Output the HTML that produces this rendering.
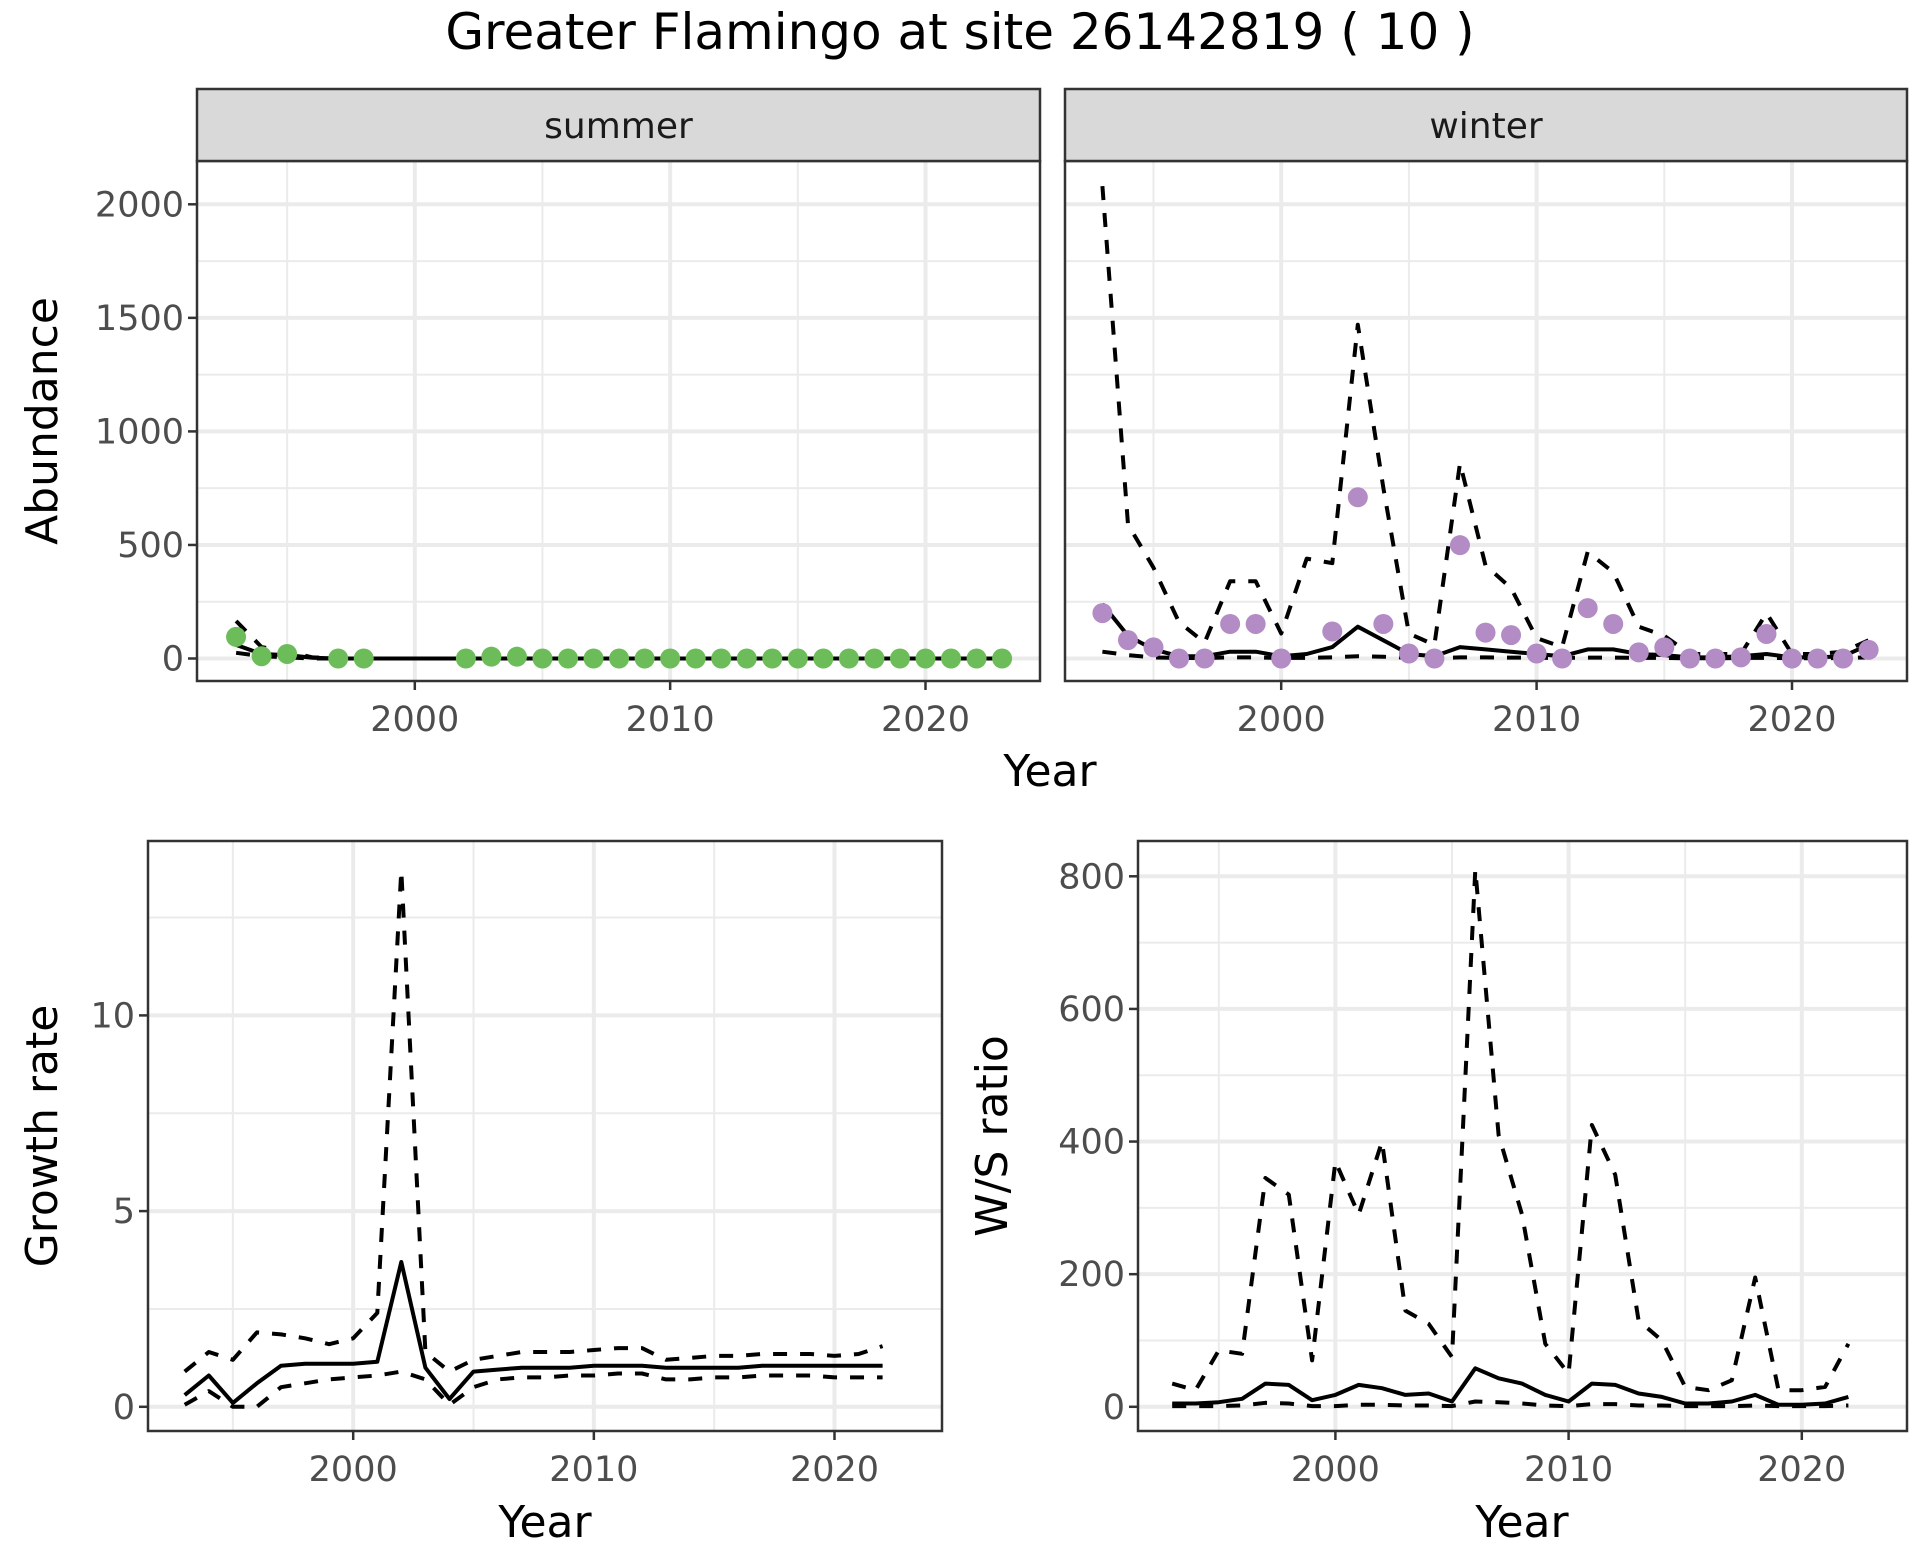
<!DOCTYPE html>
<html><head><meta charset="utf-8"><style>
html,body{margin:0;padding:0;background:#fff}
svg{display:block;font-family:"DejaVu Sans","Liberation Sans",sans-serif}
</style></head><body>
<svg id="chart" width="1920" height="1560" viewBox="0 0 1920 1560" xmlns="http://www.w3.org/2000/svg">
<rect width="1920" height="1560" fill="#fff"/>
<text x="960" y="49" text-anchor="middle" font-size="50" fill="#000">Greater Flamingo at site 26142819 ( 10 )</text>
<g id="layer"></g>
</svg>
<script>
const years = [];
for (let y = 1993; y <= 2023; y++) years.push(y);
const ratioYears = years.slice(0, 30);
const summerPtYears = [1993,1994,1995,1997,1998,2002,2003,2004,2005,2006,2007,2008,2009,2010,2011,2012,2013,2014,2015,2016,2017,2018,2019,2020,2021,2022,2023];
const summerPts = [95,10,20,0,0,0,8,8,0,0,0,0,0,0,0,0,0,0,0,0,0,0,0,0,0,0,0];
const summerMid = [60,20,15,3,0,0,0,0,0,0,0,0,0,0,0,0,0,0,0,0,0,0,0,0,0,0,0,0,0,0,0];
const summerUp = [165,50,30,5,0,0,0,0,0,0,0,0,0,0,0,0,0,0,0,0,0,0,0,0,0,0,0,0,0,0,0];
const summerLo = [25,10,5,0,0,0,0,0,0,0,0,0,0,0,0,0,0,0,0,0,0,0,0,0,0,0,0,0,0,0,0];
const winterPtYears = [1993,1994,1995,1996,1997,1998,1999,2000,2002,2003,2004,2005,2006,2007,2008,2009,2010,2011,2012,2013,2014,2015,2016,2017,2018,2019,2020,2021,2022,2023];
const winterPts = [200,81,49,0,0,152,152,0,119,710,152,22,0,499,114,103,22,0,222,152,27,49,0,0,5,108,0,0,0,38];
const winterUp = [2080,590,400,160,70,340,340,110,440,420,1470,750,110,60,860,410,310,90,50,470,380,140,100,20,20,20,200,20,20,30,80];
const winterMid = [240,100,40,10,10,30,30,10,20,50,140,80,20,10,50,40,30,20,10,40,40,20,15,5,5,10,20,5,5,10,60];
const winterLo = [30,15,5,2,2,5,5,2,3,5,10,8,3,2,5,5,4,3,2,4,4,3,2,1,1,2,3,1,1,2,5];
const growthMid = [0.3,0.8,0.1,0.6,1.05,1.1,1.1,1.1,1.15,3.7,1.0,0.2,0.9,0.95,1.0,1.0,1.0,1.05,1.05,1.05,1.0,1.0,1.0,1.0,1.05,1.05,1.05,1.05,1.05,1.05];
const growthUp = [0.9,1.4,1.2,1.9,1.85,1.75,1.6,1.75,2.4,13.7,1.4,0.9,1.2,1.3,1.4,1.4,1.4,1.45,1.5,1.5,1.2,1.25,1.3,1.3,1.35,1.35,1.35,1.3,1.35,1.55];
const growthLo = [0.05,0.4,0.0,0.0,0.5,0.6,0.7,0.75,0.8,0.9,0.7,0.05,0.5,0.7,0.75,0.75,0.8,0.8,0.85,0.85,0.7,0.7,0.75,0.75,0.8,0.8,0.8,0.75,0.75,0.75];
const ratioUp = [35,25,85,80,345,320,70,370,290,400,145,125,75,810,410,290,95,50,425,350,130,100,30,25,40,195,25,25,30,95];
const ratioMid = [5,5,7,12,35,33,10,18,33,28,18,20,8,58,43,35,18,8,35,33,20,15,5,5,8,18,3,3,5,15];
const ratioLo = [1,1,1,2,6,5,1,1,3,3,2,2,1,8,7,5,2,1,4,4,2,2,1,1,1,2,1,1,1,2];
const xTicks = [2000,2010,2020];
const abTicks = [0,500,1000,1500,2000];
const grTicks = [0,5,10];
const raTicks = [0,200,400,600,800];

const NS = "http://www.w3.org/2000/svg";
const layer = document.getElementById('layer');
function mk(tag, attrs, parent) {
  const e = document.createElementNS(NS, tag);
  for (const k in attrs) e.setAttribute(k, attrs[k]);
  (parent || layer).appendChild(e);
  return e;
}
function lin(d0, d1, r0, r1) { return v => r0 + (v - d0) / (d1 - d0) * (r1 - r0); }

function panel(o) {
  const g = mk('g', {});
  
  
  mk('rect', {x:o.x0, y:o.y0, width:o.x1-o.x0, height:o.y1-o.y0, fill:'#fff'}, g);
  o.minorY.forEach(v => mk('line', {x1:o.x0, x2:o.x1, y1:o.sy(v), y2:o.sy(v), stroke:'#ebebeb', 'stroke-width':2}, g));
  o.minorX.forEach(v => mk('line', {y1:o.y0, y2:o.y1, x1:o.sx(v), x2:o.sx(v), stroke:'#ebebeb', 'stroke-width':2}, g));
  o.yTicks.forEach(v => mk('line', {x1:o.x0, x2:o.x1, y1:o.sy(v), y2:o.sy(v), stroke:'#ebebeb', 'stroke-width':4}, g));
  xTicks.forEach(v => mk('line', {y1:o.y0, y2:o.y1, x1:o.sx(v), x2:o.sx(v), stroke:'#ebebeb', 'stroke-width':4}, g));
  const clipId = 'c' + o.name;
  const cp = mk('clipPath', {id:clipId}, g);
  mk('rect', {x:o.x0, y:o.y0, width:o.x1-o.x0, height:o.y1-o.y0}, cp);
  const dg = mk('g', {'clip-path':'url(#'+clipId+')'}, g);
  o.series.forEach(s => {
    const d = s.vals.map((v,i) => (i?'L':'M') + o.sx(s.yrs[i]).toFixed(1) + ',' + o.sy(v).toFixed(1)).join(' ');
    const p = mk('path', {d:d, fill:'none', stroke:'#000', 'stroke-width':4, 'stroke-linejoin':'round', 'stroke-dasharray': s.dash ? '14,13' : 'none'}, dg);
    
    
  });
  if (o.pts) o.pts.vals.forEach((v,i) => {
    const c = mk('circle', {cx:o.sx(o.pts.yrs[i]), cy:o.sy(v), r:10, fill:o.pts.color}, dg);
    
    
  });
  mk('rect', {x:o.x0, y:o.y0, width:o.x1-o.x0, height:o.y1-o.y0, fill:'none', stroke:'#333', 'stroke-width':2.5}, g);
  xTicks.forEach(v => {
    mk('line', {x1:o.sx(v), x2:o.sx(v), y1:o.y1, y2:o.y1+9, stroke:'#333', 'stroke-width':2.5}, g);
    const t = mk('text', {x:o.sx(v), y:o.y1+50, 'text-anchor':'middle', 'font-size':35, fill:'#4d4d4d'}, g);
    t.textContent = v;
    
    
  });
  if (o.showY) o.yTicks.forEach((v,i) => {
    mk('line', {x1:o.x0-9, x2:o.x0, y1:o.sy(v), y2:o.sy(v), stroke:'#333', 'stroke-width':2.5}, g);
    const t = mk('text', {x:o.x0-13, y:o.sy(v)+12, 'text-anchor':'end', 'font-size':35, fill:'#4d4d4d'}, g);
    t.textContent = o.yLabels[i];
    
    
  });
  if (o.strip) {
    mk('rect', {x:o.x0, y:89, width:o.x1-o.x0, height:o.y0-89, fill:'#d9d9d9', stroke:'#333', 'stroke-width':2.5}, g);
    const t = mk('text', {x:(o.x0+o.x1)/2, y:138, 'text-anchor':'middle', 'font-size':36, fill:'#1a1a1a'}, g);
    t.textContent = o.strip;
    
    
  }
}

const abY = lin(0, 2000, 658.5, 204.3);
panel({name:'summer-panel', x0:197, x1:1040, y0:161, y1:681, sx:lin(2000,2020,414.8,925.5), sy:abY,
  yTicks:abTicks, yLabels:abTicks, showY:true, strip:'summer',
  minorX:[1995,2005,2015], minorY:[250,750,1250,1750],
  series:[{yrs:years, vals:summerUp, dash:true, name:'summer-upper-ci'},{yrs:years, vals:summerMid, dash:false, name:'summer-trend'},{yrs:years, vals:summerLo, dash:true, name:'summer-lower-ci'}],
  pts:{yrs:summerPtYears, vals:summerPts, color:'#6cbd59'}});
panel({name:'winter-panel', x0:1065, x1:1907, y0:161, y1:681, sx:lin(2000,2020,1281.2,1792), sy:abY,
  yTicks:abTicks, yLabels:abTicks, showY:false, strip:'winter',
  minorX:[1995,2005,2015], minorY:[250,750,1250,1750],
  series:[{yrs:years, vals:winterUp, dash:true, name:'winter-upper-ci'},{yrs:years, vals:winterMid, dash:false, name:'winter-trend'},{yrs:years, vals:winterLo, dash:true, name:'winter-lower-ci'}],
  pts:{yrs:winterPtYears, vals:winterPts, color:'#b38bc5'}});
panel({name:'growth-panel', x0:148, x1:942, y0:841, y1:1431, sx:lin(2000,2020,353.2,834.5), sy:lin(0,10,1406.8,1015.4),
  yTicks:grTicks, yLabels:grTicks, showY:true,
  minorX:[1995,2005,2015], minorY:[2.5,7.5,12.5],
  series:[{yrs:ratioYears, vals:growthUp, dash:true, name:'growth-upper-ci'},{yrs:ratioYears, vals:growthMid, dash:false, name:'growth-trend'},{yrs:ratioYears, vals:growthLo, dash:true, name:'growth-lower-ci'}]});
panel({name:'ratio-panel', x0:1138, x1:1907, y0:841, y1:1431, sx:lin(2000,2020,1335.4,1801.8), sy:lin(0,800,1406.8,876.3),
  yTicks:raTicks, yLabels:raTicks, showY:true,
  minorX:[1995,2005,2015], minorY:[100,300,500,700],
  series:[{yrs:ratioYears, vals:ratioUp, dash:true, name:'ratio-upper-ci'},{yrs:ratioYears, vals:ratioMid, dash:false, name:'ratio-trend'},{yrs:ratioYears, vals:ratioLo, dash:true, name:'ratio-lower-ci'}]});

function title(txt, x, y, rot, name) {
  const t = mk('text', {x:x, y:y, 'text-anchor':'middle', 'font-size':44, fill:'#000'});
  if (rot) t.setAttribute('transform', 'rotate(-90 ' + x + ' ' + y + ')');
  t.textContent = txt;
  
  
}
title('Year', 1050, 786, false, 'x-axis-title-top');
title('Abundance', 57, 421, true, 'y-axis-title-abundance');
title('Year', 545, 1537, false, 'x-axis-title-growth');
title('Growth rate', 57, 1136, true, 'y-axis-title-growth');
title('Year', 1522, 1537, false, 'x-axis-title-ratio');
title('W/S ratio', 1007, 1136, true, 'y-axis-title-ratio');
</script>
</body></html>
